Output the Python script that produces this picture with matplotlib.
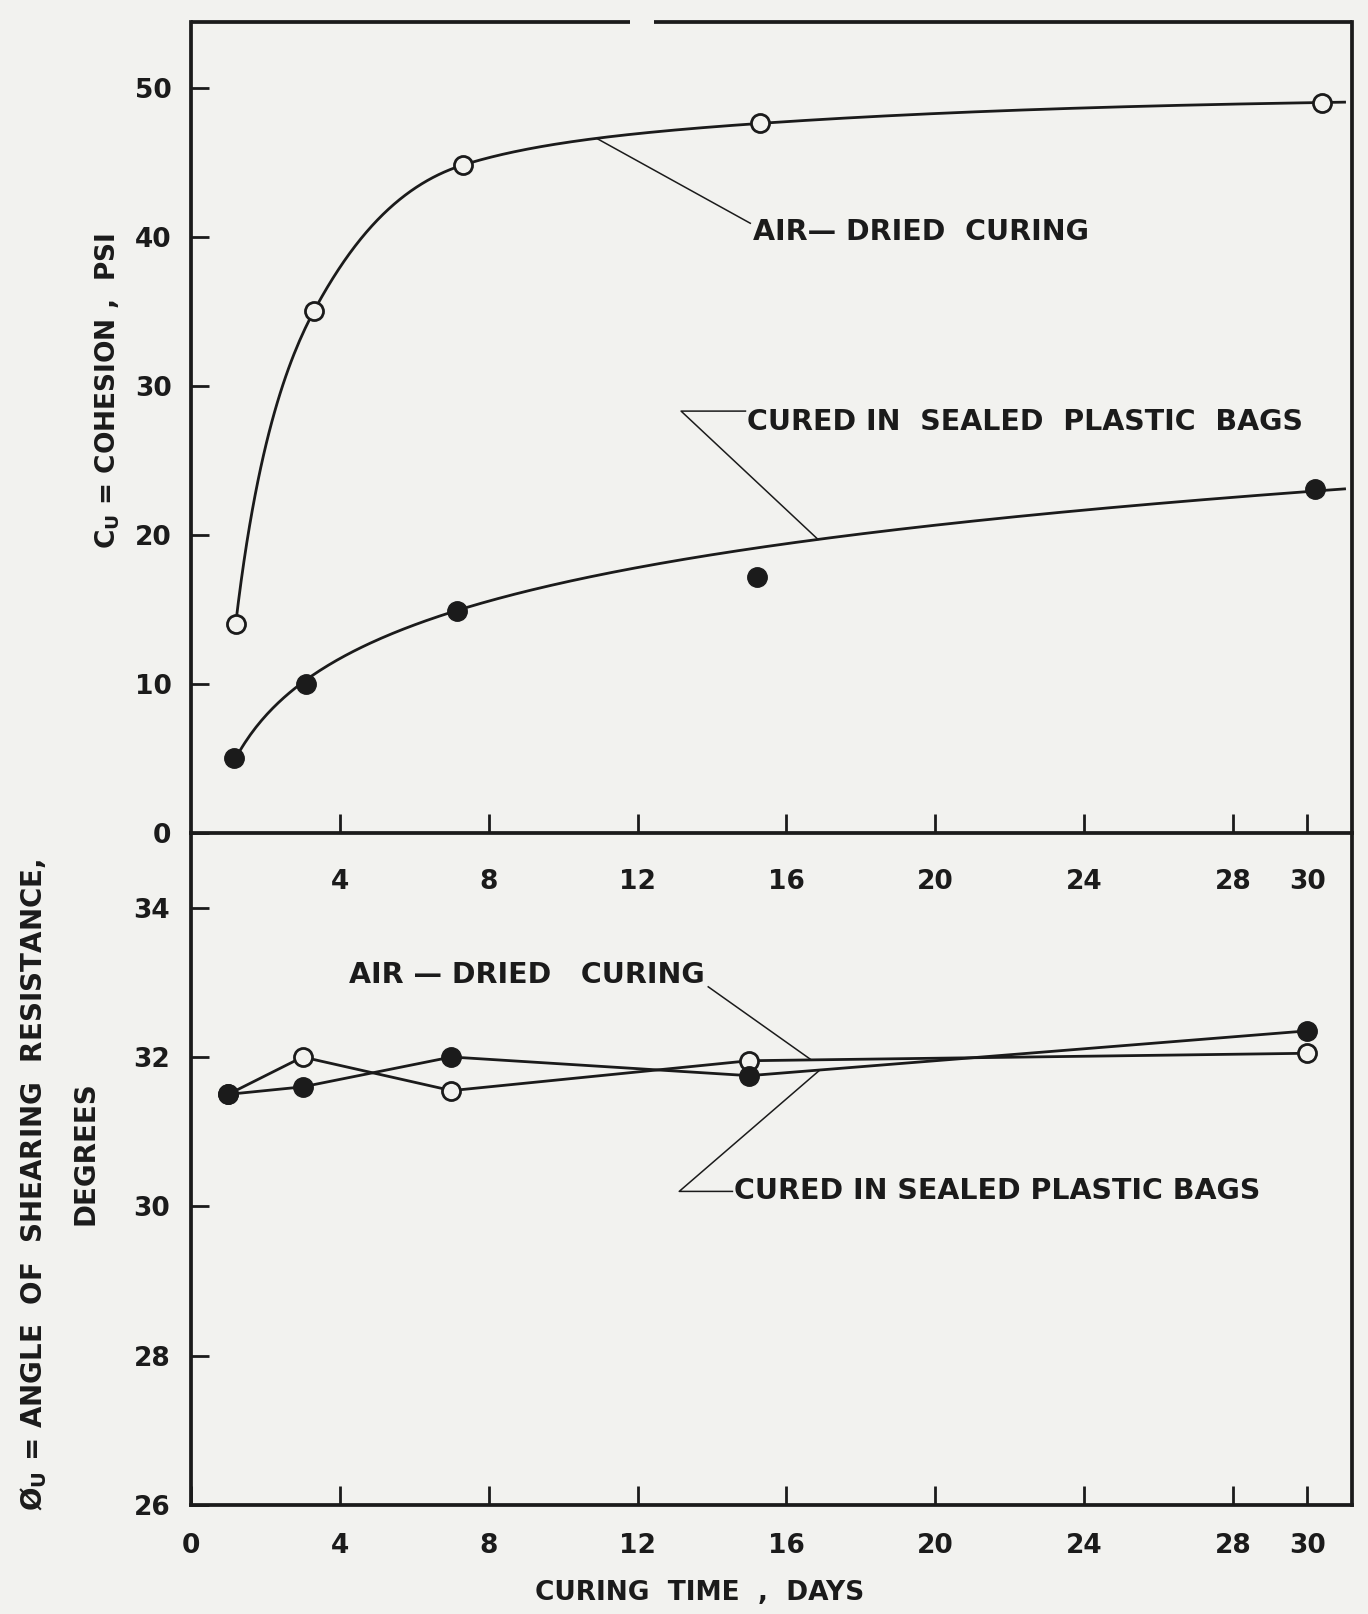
import numpy as np
import matplotlib.pyplot as plt

plt.rcParams['font.family'] = 'DejaVu Sans'
plt.rcParams['font.weight'] = 'bold'
plt.rcParams['mathtext.fontset'] = 'dejavusans'

# cohesion test points (days, psi)
days_air_top = [1.2, 3.3, 7.3, 15.3, 30.4]
cohesion_air = [14.0, 35.0, 44.8, 47.6, 49.0]
days_bag_top = [1.15, 3.1, 7.15, 15.2, 30.2]
cohesion_bag = [5.0, 10.0, 14.9, 17.2, 23.1]
# the 15 day bag sample sits off the trend, give it little weight in the fit
bag_weights = [1.0, 1.0, 1.0, 0.2, 1.0]

# friction angle points (days, degrees)
days = [1, 3, 7, 15, 30]
phi_air = [31.5, 32.0, 31.55, 31.95, 32.05]
phi_bag = [31.5, 31.6, 32.0, 31.75, 32.35]

x_ticks_top = [4, 8, 12, 16, 20, 24, 28, 30]
x_ticks_bot = [0, 4, 8, 12, 16, 20, 24, 28, 30]
y_ticks_top = [0, 10, 20, 30, 40, 50]
y_ticks_bot = [26, 28, 30, 32, 34]

paper = '#f2f2ef'
ink = '#1b1b1b'


def pchip(x, y, xq):
    # monotone cubic through the points, straight line past the last one
    x = np.asarray(x, float)
    y = np.asarray(y, float)
    h = np.diff(x)
    d = np.diff(y) / h
    n = len(x)
    m = np.zeros(n)
    for k in range(1, n - 1):
        if d[k - 1] * d[k] > 0:
            w1 = 2 * h[k] + h[k - 1]
            w2 = h[k] + 2 * h[k - 1]
            m[k] = (w1 + w2) / (w1 / d[k - 1] + w2 / d[k])
    m[0] = ((2 * h[0] + h[1]) * d[0] - h[0] * d[1]) / (h[0] + h[1])
    m[-1] = ((2 * h[-1] + h[-2]) * d[-1] - h[-1] * d[-2]) / (h[-1] + h[-2])
    if m[0] * d[0] < 0:
        m[0] = 0
    if m[-1] * d[-1] < 0:
        m[-1] = 0
    xq = np.asarray(xq, float)
    out = np.empty_like(xq)
    for i, xv in enumerate(xq):
        if xv >= x[-1]:
            out[i] = y[-1] + m[-1] * (xv - x[-1])
            continue
        k = min(max(np.searchsorted(x, xv) - 1, 0), n - 2)
        s = (xv - x[k]) / h[k]
        h00 = 2 * s**3 - 3 * s**2 + 1
        h10 = s**3 - 2 * s**2 + s
        h01 = -2 * s**3 + 3 * s**2
        h11 = s**3 - s**2
        out[i] = h00 * y[k] + h10 * h[k] * m[k] + h01 * y[k + 1] + h11 * h[k] * m[k + 1]
    return out


# smooth curves for the upper panel
t_air = np.linspace(days_air_top[0], 31.0, 400)
c_air = pchip(np.log(days_air_top), cohesion_air, np.log(t_air))

coef_bag = np.polyfit(np.log(days_bag_top), cohesion_bag, 1, w=bag_weights)
t_bag = np.linspace(days_bag_top[0], 31.0, 400)
c_bag = np.polyval(coef_bag, np.log(t_bag))

fig = plt.figure(figsize=(13.68, 16.14), dpi=100, facecolor=paper)
W, H = 1368, 1614
x0, x1 = 191, 1352
ax_top = fig.add_axes([x0 / W, 781 / H, (x1 - x0) / W, (1592 - 781) / H])
ax_bot = fig.add_axes([x0 / W, 109 / H, (x1 - x0) / W, (781 - 109) / H])
for ax in (ax_top, ax_bot):
    ax.patch.set_visible(False)
    for s in ax.spines.values():
        s.set_linewidth(2.7)
        s.set_color(ink)
    ax.set_xlim(0, 31.2)
    ax.tick_params(colors=ink, labelsize=19, width=2.0)

# ---- upper panel: cohesion
ax_top.set_ylim(0, 54.4)
ax_top.plot(t_air, c_air, color=ink, lw=2.0, zorder=2)
ax_top.plot(t_bag, c_bag, color=ink, lw=2.0, zorder=2)
ax_top.plot(days_air_top, cohesion_air, 'o', ms=13, mfc=paper, mec=ink, mew=2, zorder=3)
ax_top.plot(days_bag_top, cohesion_bag, 'o', ms=14, mfc=ink, mec=ink, zorder=3)

ax_top.set_xticks(x_ticks_top)
ax_top.set_xticklabels([str(v) for v in x_ticks_top])
ax_top.set_yticks(y_ticks_top)
ax_top.tick_params(axis='x', direction='in', length=14, pad=26)
ax_top.tick_params(axis='y', direction='in', length=13, pad=14)

# top border has a break in it
ax_top.spines['top'].set_visible(False)
tr = ax_top.get_xaxis_transform()
ax_top.plot([0, 11.8], [1, 1], transform=tr, color=ink, lw=2.7, clip_on=False, solid_capstyle='butt')
ax_top.plot([12.45, 31.2], [1, 1], transform=tr, color=ink, lw=2.7, clip_on=False, solid_capstyle='butt')

# labels with leader lines
xa = 10.9
ya = pchip(np.log(days_air_top), cohesion_air, np.log([xa]))[0]
ax_top.plot([xa, 15.03], [ya, 40.9], color=ink, lw=1.1)
ax_top.text(15.1, 40.3, 'AIR\u2014 DRIED  CURING', fontsize=20.5, ha='left', va='center', color=ink)

xb = 16.85
yb = np.polyval(coef_bag, np.log(xb))
ax_top.plot([14.9, 13.17, xb], [28.3, 28.3, yb], color=ink, lw=1.1)
ax_top.text(14.95, 27.6, 'CURED IN  SEALED  PLASTIC  BAGS', fontsize=20.5, ha='left', va='center', color=ink)

# ---- lower panel: angle of shearing resistance
ax_bot.set_ylim(26, 35.0)
ax_bot.spines['top'].set_visible(False)
ax_bot.plot(days, phi_air, color=ink, lw=2.0, zorder=2)
ax_bot.plot(days, phi_bag, color=ink, lw=2.0, zorder=2)
ax_bot.plot(days, phi_air, 'o', ms=13, mfc=paper, mec=ink, mew=2, zorder=3)
ax_bot.plot(days, phi_bag, 'o', ms=14, mfc=ink, mec=ink, zorder=3)

ax_bot.set_xticks(x_ticks_bot)
ax_bot.set_yticks(y_ticks_bot)
ax_bot.tick_params(axis='x', direction='in', length=14, pad=20)
ax_bot.tick_params(axis='y', direction='in', length=13, pad=15)

xc = 16.67
yc = np.interp(xc, days, phi_air)
ax_bot.plot([13.9, xc], [32.94, yc], color=ink, lw=1.1)
ax_bot.text(13.8, 33.1, 'AIR \u2014 DRIED   CURING', fontsize=20.5,
            ha='right', va='center', color=ink)

xd = 16.9
yd = np.interp(xd, days, phi_bag)
ax_bot.plot([14.55, 13.12, xd], [30.2, 30.2, yd], color=ink, lw=1.1)
ax_bot.text(14.6, 30.2, 'CURED IN SEALED PLASTIC BAGS', fontsize=20.5, ha='left', va='center', color=ink)

# axis titles
fig.text(700 / W, 0.013, 'CURING  TIME  ,  DAYS', fontsize=19, ha='center', va='center', color=ink)
fig.text(108 / W, 0.7577, r'C$_\mathbf{U}$ = COHESION ,  PSI', fontsize=19,
         rotation=90, ha='center', va='center', color=ink)
fig.text(34 / W, 0.2658, r'$\mathbf{\O}_\mathbf{U}$ = ANGLE  OF  SHEARING  RESISTANCE,', fontsize=20,
         rotation=90, ha='center', va='center', color=ink)
fig.text(85 / W, 0.2856, 'DEGREES', fontsize=20, rotation=90, ha='center', va='center', color=ink)

fig.savefig('out.png', dpi=100, facecolor=paper)
